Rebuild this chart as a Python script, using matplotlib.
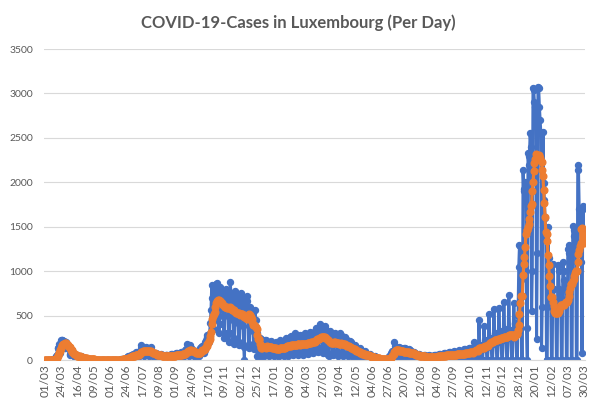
import numpy as np
import pandas as pd
import matplotlib
matplotlib.use("Agg")
import matplotlib.pyplot as plt

plt.rcParams['font.family'] = ['Lato', 'DejaVu Sans']

# Daily new cases, one row per week (Sun..Sat), starting Sunday 01/03/2020
weeks = [
    [0, 0, 0, 1, 1, 2, 0],
    [1, 2, 2, 3, 5, 12, 10],
    [20, 5, 40, 60, 140, 130, 180],
    [130, 80, 220, 230, 225, 190, 215],
    [130, 135, 205, 150, 170, 150, 120],
    [70, 60, 80, 110, 60, 70, 50],
    [40, 30, 45, 60, 50, 45, 30],
    [20, 15, 40, 30, 25, 30, 20],
    [10, 10, 20, 15, 15, 10, 8],
    [5, 8, 10, 6, 5, 10, 4],
    [3, 2, 5, 4, 3, 5, 2],
    [2, 1, 3, 4, 2, 3, 1],
    [1, 1, 2, 3, 2, 2, 1],
    [1, 2, 1, 2, 3, 2, 1],
    [1, 2, 3, 2, 4, 3, 2],
    [2, 5, 6, 8, 10, 12, 8],
    [10, 15, 20, 25, 30, 40, 25],
    [20, 40, 50, 55, 60, 70, 40],
    [30, 40, 70, 90, 75, 80, 50],
    [50, 70, 170, 130, 120, 110, 60],
    [50, 80, 150, 120, 110, 130, 60],
    [40, 70, 150, 100, 90, 80, 50],
    [30, 40, 70, 80, 70, 65, 40],
    [25, 30, 60, 70, 60, 55, 30],
    [20, 30, 55, 60, 60, 50, 30],
    [20, 35, 65, 60, 70, 55, 30],
    [25, 40, 70, 75, 80, 60, 35],
    [30, 45, 80, 90, 85, 80, 40],
    [40, 60, 110, 120, 180, 110, 60],
    [50, 70, 170, 130, 120, 100, 60],
    [40, 50, 100, 100, 90, 90, 50],
    [50, 70, 130, 150, 160, 150, 90],
    [80, 110, 200, 230, 260, 280, 200],
    [200, 300, 420, 560, 850, 700, 450],
    [350, 450, 850, 860, 870, 830, 550],
    [300, 400, 820, 800, 760, 750, 500],
    [250, 300, 780, 800, 790, 700, 500],
    [200, 300, 880, 750, 700, 650, 450],
    [180, 250, 780, 700, 720, 650, 420],
    [170, 200, 700, 760, 720, 650, 380],
    [150, 0, 700, 690, 660, 720, 560],
    [130, 180, 600, 520, 500, 480, 330],
    [120, 180, 560, 450, 300, 40, 30],
    [60, 100, 250, 240, 200, 50, 150],
    [50, 80, 230, 220, 210, 190, 80],
    [40, 70, 200, 210, 200, 170, 60],
    [40, 60, 190, 200, 180, 160, 50],
    [40, 60, 220, 200, 190, 160, 60],
    [50, 70, 230, 250, 220, 190, 70],
    [50, 80, 260, 270, 240, 200, 70],
    [60, 80, 300, 260, 250, 200, 80],
    [60, 90, 280, 270, 250, 220, 80],
    [60, 100, 300, 280, 260, 220, 90],
    [70, 100, 320, 300, 290, 250, 90],
    [80, 120, 330, 360, 340, 300, 100],
    [90, 140, 400, 390, 380, 320, 110],
    [80, 130, 380, 360, 330, 250, 80],
    [60, 50, 300, 330, 300, 250, 70],
    [60, 90, 300, 290, 270, 240, 70],
    [50, 80, 290, 300, 280, 230, 60],
    [40, 70, 260, 250, 240, 200, 60],
    [40, 60, 200, 210, 200, 160, 40],
    [30, 40, 170, 160, 150, 110, 30],
    [20, 30, 120, 130, 110, 80, 20],
    [15, 20, 90, 100, 80, 60, 15],
    [10, 15, 60, 70, 50, 45, 10],
    [5, 10, 35, 40, 30, 25, 5],
    [0, 5, 20, 15, 15, 10, 0],
    [5, 0, 15, 10, 15, 10, 0],
    [0, 10, 40, 50, 80, 100, 50],
    [30, 100, 200, 160, 150, 130, 50],
    [30, 80, 150, 140, 130, 110, 40],
    [30, 70, 140, 130, 120, 100, 40],
    [20, 60, 120, 110, 100, 90, 30],
    [20, 50, 90, 80, 70, 60, 20],
    [10, 40, 70, 60, 60, 50, 15],
    [10, 30, 60, 55, 50, 45, 10],
    [10, 30, 55, 50, 50, 45, 10],
    [10, 30, 60, 60, 55, 45, 10],
    [10, 40, 70, 65, 60, 50, 15],
    [15, 45, 80, 75, 70, 60, 15],
    [15, 50, 90, 85, 80, 65, 15],
    [15, 50, 100, 95, 90, 70, 20],
    [20, 60, 110, 100, 95, 80, 20],
    [20, 60, 120, 120, 110, 90, 25],
    [20, 70, 140, 130, 120, 110, 30],
    [0, 60, 200, 180, 170, 150, 0],
    [0, 30, 450, 170, 160, 150, 0],
    [0, 120, 380, 220, 210, 200, 0],
    [0, 150, 520, 250, 250, 230, 0],
    [0, 180, 580, 300, 280, 260, 0],
    [0, 200, 590, 330, 300, 280, 0],
    [0, 220, 650, 350, 320, 300, 0],
    [0, 250, 730, 340, 320, 300, 0],
    [0, 250, 640, 400, 420, 380, 0],
    [0, 500, 1050, 1290, 1280, 900, 0],
    [0, 2140, 1930, 1900, 2000, 1950, 360],
    [0, 2330, 2200, 2300, 2550, 2400, 550],
    [1000, 3060, 3040, 2900, 2850, 2800, 240],
    [1200, 3070, 3060, 2850, 2700, 2560, 130],
    [600, 2570, 1990, 1800, 1600, 1400, 0],
    [0, 1500, 1150, 1000, 750, 600, 0],
    [0, 1080, 800, 650, 600, 570, 0],
    [0, 1070, 1000, 800, 750, 700, 0],
    [0, 1100, 1000, 900, 800, 800, 0],
    [0, 1250, 1300, 1200, 1150, 1100, 0],
    [0, 1510, 1460, 1400, 1350, 1300, 0],
    [0, 2190, 2140, 1700, 1650, 1520, 1100],
    [75, 1730, 1700, 1460],
]

cases = [v for w in weeks for v in w]
dates = pd.date_range("2020-03-01", periods=len(cases), freq="D")
avg7 = pd.Series(cases).rolling(7, min_periods=1).mean()

title = "COVID-19-Cases in Luxembourg (Per Day)"
label_step = 23

fig = plt.figure(figsize=(5.97, 4.05), dpi=100)
ax = fig.add_axes([0.0737, 0.111, 0.906, 0.768])

x = np.arange(len(cases))
ax.plot(x, cases, color="#4472C4", lw=2.2, marker="o", ms=4.3, zorder=2)
ax.plot(x, avg7, color="#ED7D31", lw=2.2, marker="o", ms=4.8, zorder=3)

ax.set_ylim(0, 3500)
ax.set_xlim(-1, len(cases))
ax.set_yticks(range(0, 3501, 500))
tick_pos = x[::label_step]
ax.set_xticks(tick_pos)
ax.set_xticklabels([dates[i].strftime("%d/%m") for i in tick_pos], rotation=90)

ax.grid(axis="y", color="#D9D9D9", lw=0.8, zorder=0)
ax.set_axisbelow(True)
for s in ["top", "right", "left"]:
    ax.spines[s].set_visible(False)
ax.spines["bottom"].set_color("#D9D9D9")
ax.tick_params(axis="both", length=0, colors="#595959")
ax.tick_params(axis="y", pad=8, labelsize=7.5)
ax.tick_params(axis="x", pad=3, labelsize=8.5)

fig.text(0.5, 0.945, title, ha="center", va="center", fontsize=12,
         fontweight="bold", color="#595959")

fig.savefig("out.png", dpi=100)
